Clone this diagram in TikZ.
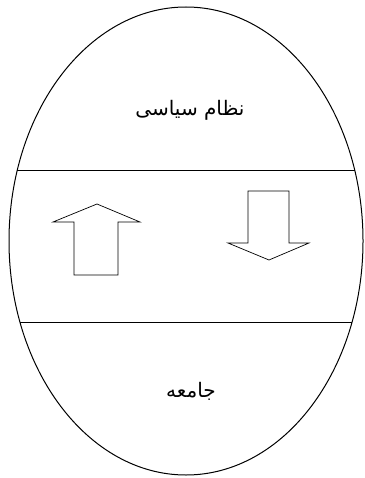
\documentclass[tikz,border=0pt]{standalone}
\usepackage{fontspec}
\newfontfamily\arabicfont[Script=Arabic]{DejaVu Sans}
\TeXXeTstate=1
\usetikzlibrary{shapes,positioning}

\begin{document}
\begin{tikzpicture}[x=1pt, y=-1pt,
  txt/.style={font=\arabicfont\fontsize{20}{24}\selectfont, inner sep=1pt},
  band/.style={draw, line width=0.8pt},
  block/.style={draw, line width=0.7pt, line join=miter}
]
\useasboundingbox (0,0) rectangle (364,478);

\node[draw, ellipse, line width=1pt, minimum width=354pt, minimum height=468pt, inner sep=0pt] (egg) at (186,241) {};

\coordinate (t1) at (17.3,170);
\coordinate (t2) at (354.7,170);
\coordinate (b1) at (20.1,322);
\coordinate (b2) at (351.9,322);
\draw[band] (t1) -- (t2);
\draw[band] (b1) -- (b2);

\node[txt] (pol) at (190,110) {\beginR نظام سیاسی\endR};
\node[txt] (soc) at (191,391) {\beginR جامعه\endR};

% up and down block arrows
\draw[block] (74,275) -- (74,222) -- (53,222) -- (97,204) -- (140,222) -- (118,222) -- (118,275) -- cycle;
\draw[block] (248,191) -- (289,191) -- (289,243) -- (309,243) -- (269,260) -- (228,243) -- (248,243) -- cycle;

\end{tikzpicture}
\end{document}
